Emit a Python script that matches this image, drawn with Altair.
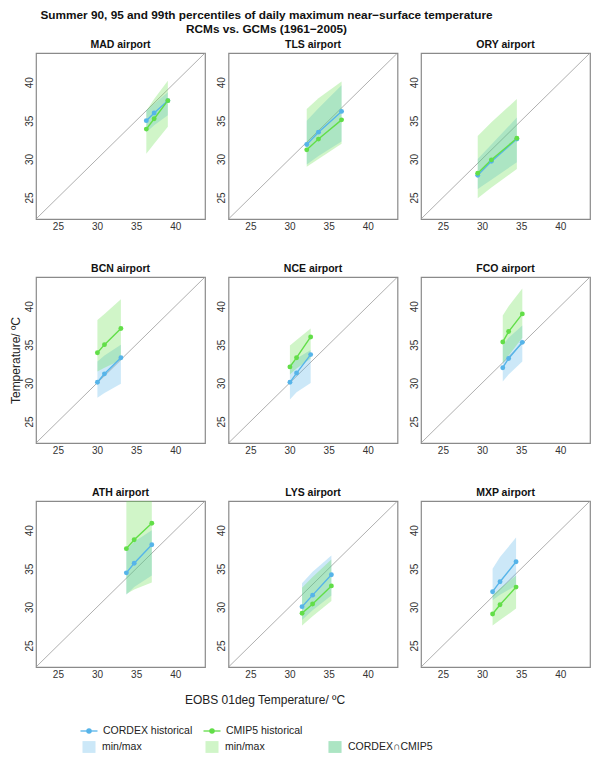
import altair as alt
import pandas as pd

airports = ["MAD", "TLS", "ORY", "BCN", "NCE", "FCO", "ATH", "LYS", "MXP"]

# EOBS observed 90/95/99th percentiles (x)
eobs = {
    "MAD": [36.3, 37.3, 39.05], "TLS": [32.2, 33.7, 36.65], "ORY": [29.45, 31.2, 34.45],
    "BCN": [30.05, 30.95, 33.05], "NCE": [30.05, 30.9, 32.7], "FCO": [32.65, 33.4, 35.15],
    "ATH": [33.75, 34.75, 37.0], "LYS": [31.6, 32.95, 35.35], "MXP": [31.35, 32.3, 34.35],
}
# CORDEX ensemble mean, min, max
cordex = {
    "MAD": [35.0, 36.0, 37.6], "TLS": [31.9, 33.5, 36.2], "ORY": [27.9, 29.7, 32.6],
    "BCN": [30.1, 31.2, 33.3], "NCE": [30.1, 31.3, 33.7], "FCO": [32.0, 33.2, 35.3],
    "ATH": [34.45, 35.7, 38.1], "LYS": [30.05, 31.55, 34.2], "MXP": [32.0, 33.3, 35.9],
}
cordex_min = {
    "MAD": [33.5, 34.4, 35.7], "TLS": [29.3, 30.4, 32.3], "ORY": [26.1, 27.3, 29.6],
    "BCN": [28.1, 28.7, 29.9], "NCE": [27.85, 28.8, 30.0], "FCO": [30.2, 31.1, 32.8],
    "ATH": [31.6, 32.6, 34.1], "LYS": [28.3, 29.6, 31.5], "MXP": [30.9, 31.6, 32.8],
}
cordex_max = {
    "MAD": [36.3, 37.2, 38.7], "TLS": [35.0, 36.6, 39.6], "ORY": [30.0, 31.9, 35.4],
    "BCN": [32.8, 33.6, 35.0], "NCE": [32.4, 33.2, 34.3], "FCO": [34.9, 35.9, 37.5],
    "ATH": [37.5, 38.5, 40.0], "LYS": [33.1, 34.6, 36.7], "MXP": [35.0, 36.5, 39.05],
}
# CMIP5 ensemble mean, min, max (ATH max runs off the top of the panel)
cmip5 = {
    "MAD": [33.9, 35.25, 37.6], "TLS": [31.2, 32.6, 35.1], "ORY": [28.15, 29.9, 32.7],
    "BCN": [33.95, 35.0, 37.1], "NCE": [32.1, 33.3, 36.0], "FCO": [35.35, 36.7, 39.0],
    "ATH": [37.6, 38.75, 40.9], "LYS": [29.2, 30.4, 32.75], "MXP": [29.1, 30.3, 32.6],
}
cmip5_min = {
    "MAD": [30.7, 32.0, 34.2], "TLS": [29.0, 30.0, 32.0], "ORY": [24.9, 26.3, 28.7],
    "BCN": [31.5, 32.0, 33.0], "NCE": [31.1, 31.9, 33.2], "FCO": [32.6, 33.6, 35.9],
    "ATH": [31.7, 32.3, 33.2], "LYS": [27.6, 28.8, 30.8], "MXP": [27.6, 28.3, 29.8],
}
cmip5_max = {
    "MAD": [36.3, 37.8, 40.2], "TLS": [36.5, 37.9, 40.1], "ORY": [33.0, 34.8, 37.8],
    "BCN": [38.2, 39.0, 40.9], "NCE": [34.9, 35.6, 37.1], "FCO": [38.8, 40.0, 42.3],
    "ATH": [43.8, 43.8, 43.8], "LYS": [32.5, 33.9, 36.2], "MXP": [31.5, 32.4, 34.1],
}

models = ["CORDEX historical", "CMIP5 historical"]
model_colors = ["#56B4E9", "#62DE48"]
tick_values = [25, 30, 35, 40]
axis_domain = [22.2, 43.8]
diag_values = [22.2, 43.8]

legend_lines = ["CORDEX historical", "CMIP5 historical"]
legend_fills = ["min/max", "min/max", "CORDEX\u2229CMIP5"]

rows = []
for a in airports:
    for i in range(3):
        rows.append(dict(airport=a, x=eobs[a][i], model=models[0], y=cordex[a][i],
                         lo=cordex_min[a][i], hi=cordex_max[a][i]))
        rows.append(dict(airport=a, x=eobs[a][i], model=models[1], y=cmip5[a][i],
                         lo=cmip5_min[a][i], hi=cmip5_max[a][i]))
df = pd.DataFrame(rows)
diag_df = pd.DataFrame({"v": diag_values})

FONT = "Liberation Sans"
color = alt.Color("model:N", scale=alt.Scale(domain=models, range=model_colors), legend=None)
xs = alt.Scale(domain=axis_domain, nice=False, zero=False)
ys = alt.Scale(domain=axis_domain, nice=False, zero=False)


def panel(a):
    d = df[df.airport == a]
    xaxis = alt.Axis(values=tick_values, title=None)
    yaxis = alt.Axis(values=tick_values, title=None, labelAngle=270, labelAlign="center",
                     labelBaseline="bottom")
    if a == "LYS":
        xaxis = alt.Axis(values=tick_values, title="EOBS 01deg Temperature/ \u00baC",
                         titleX=36, titleY=32, titleBaseline="middle")
    if a == "BCN":
        yaxis = alt.Axis(values=tick_values, title="Temperature/ \u00baC", labelAngle=270,
                         labelAlign="center", labelBaseline="bottom", titlePadding=2)
    diag = alt.Chart(diag_df).mark_line(color="#9a9a9a", strokeWidth=0.8, clip=True).encode(
        x=alt.X("v:Q", scale=xs, axis=xaxis), y=alt.Y("v:Q", scale=ys, axis=yaxis))
    base = alt.Chart(d)
    band = base.mark_area(opacity=0.3, clip=True).encode(
        x=alt.X("x:Q", scale=xs), y=alt.Y("lo:Q", scale=ys), y2="hi:Q", color=color)
    line = base.mark_line(strokeWidth=1.4, clip=True).encode(
        x=alt.X("x:Q", scale=xs), y=alt.Y("y:Q", scale=ys), color=color)
    pts = base.mark_circle(size=24, opacity=1, clip=True).encode(
        x=alt.X("x:Q", scale=xs), y=alt.Y("y:Q", scale=ys), color=color)
    return alt.layer(diag, band, line, pts).properties(
        width=169, height=166,
        title=alt.TitleParams(f"{a} airport", fontSize=10.5, fontWeight="bold", offset=3,
                              font=FONT, color="#111"))


grid = alt.concat(*[panel(a) for a in airports], columns=3,
                  spacing={"row": 58, "column": 23.5}, bounds="flush")

# custom legend
leg_l = pd.DataFrame({"col": [0, 1], "row": [0, 0], "label": legend_lines, "model": models})
leg_f = pd.DataFrame({"col": [0, 1, 2, 2], "row": [1, 1, 1, 1],
                      "model": [models[0], models[1], models[0], models[1]]})
leg_t = pd.DataFrame({"col": [0, 1, 2], "row": [1, 1, 1], "label": legend_fills})
lx = alt.Scale(domain=[0, 1], range=[53, 176])
ly = alt.Scale(domain=[0, 1], range=[5, 21])
lX = alt.X("col:Q", scale=lx, axis=None)
lY = alt.Y("row:Q", scale=ly, axis=None)
seg = alt.Chart(leg_l).mark_point(shape="M-1,0L1,0", size=289, strokeWidth=1.3, filled=False,
                                  opacity=1).encode(x=lX, y=lY, color=color)
dot = alt.Chart(leg_l).mark_circle(size=30, opacity=1).encode(x=lX, y=lY, color=color)
txt1 = alt.Chart(leg_l).mark_text(align="left", dx=14, fontSize=10.5, font=FONT,
                                  color="#222").encode(x=lX, y=lY, text="label:N")
sq = alt.Chart(leg_f).mark_point(shape="M-1.1,-1L1.1,-1L1.1,1L-1.1,1Z", size=140, filled=True,
                                 opacity=0.3).encode(x=lX, y=lY, color=color)
txt2 = alt.Chart(leg_t).mark_text(align="left", dx=13, fontSize=10.5, font=FONT,
                                  color="#222").encode(x=lX, y=lY, text="label:N")
legend = alt.layer(seg, dot, txt1, sq, txt2).properties(
    width=540, height=22, view=alt.ViewBackground(stroke=None, fill="white"))

chart = alt.vconcat(grid, legend, spacing=20).properties(
    title=alt.TitleParams(
        ["Summer 90, 95 and 99th percentiles of daily maximum near\u2212surface temperature",
         "RCMs vs. GCMs (1961\u22122005)"],
        fontSize=11.8, fontWeight="bold", font=FONT, anchor="middle", dx=-33, offset=3,
        lineHeight=14, color="#111"),
    padding={"left": 0, "top": 2, "right": 0, "bottom": 0},
).configure_view(stroke="#8a8a8a", strokeWidth=1.2).configure_axis(
    domain=False, ticks=False, grid=False, labelFontSize=10, labelFont=FONT, labelColor="#333",
    labelPadding=2, titleFont=FONT, titleFontSize=12, titleFontWeight="normal", titleColor="#222"
)

chart.save("out.html", embed_options={"renderer": "svg", "actions": False})
